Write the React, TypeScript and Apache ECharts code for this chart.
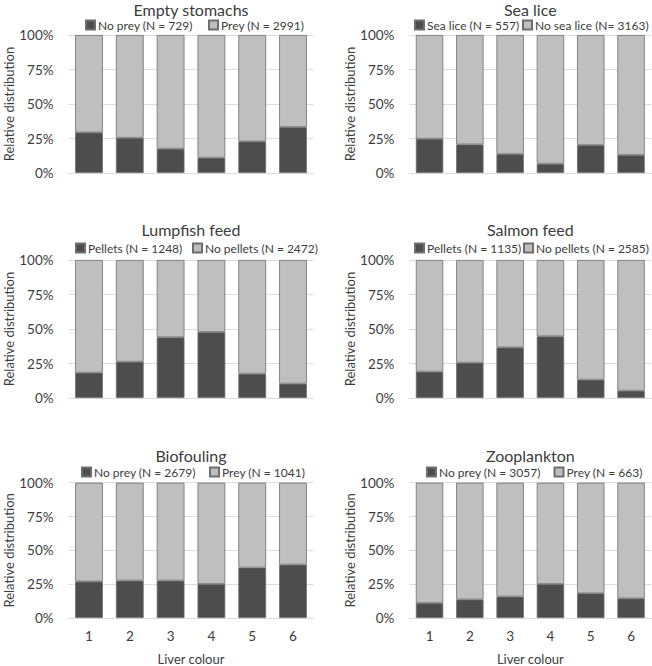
import React, { useEffect, useRef } from "react";
import * as echarts from "echarts";

const categories = ["1", "2", "3", "4", "5", "6"];
const yTicks = [0, 25, 50, 75, 100];

const titles = ["Empty stomachs", "Sea lice", "Lumpfish feed", "Salmon feed", "Biofouling", "Zooplankton"];
const darkNames = [
  "No prey (N = 729)",
  "Sea lice (N = 557)",
  "Pellets (N = 1248)",
  "Pellets (N = 1135)",
  "No prey (N = 2679)",
  "No prey (N = 3057)",
];
const lightNames = [
  "Prey (N = 2991)",
  "No sea lice (N= 3163)",
  "No pellets (N = 2472)",
  "No pellets (N = 2585)",
  "Prey (N = 1041)",
  "Prey (N = 663)",
];

const emptyStomachs = [29.4, 25.5, 17.6, 11.1, 22.9, 33.3];
const seaLice = [24.8, 20.7, 13.7, 6.7, 20.2, 13.0];
const lumpfishFeed = [18.4, 26.3, 44.0, 47.8, 17.6, 10.4];
const salmonFeed = [19.1, 25.6, 36.7, 44.7, 13.3, 5.3];
const biofouling = [27.0, 27.7, 27.7, 25.1, 37.3, 39.5];
const zooplankton = [11.1, 13.7, 15.9, 25.1, 18.3, 14.5];

const darkValues = [emptyStomachs, seaLice, lumpfishFeed, salmonFeed, biofouling, zooplankton];

// layout
const colLeft = [68.6, 409.4];
const colWidth = [244.8, 241.8];
const rowTop = [35, 260, 482.7];
const plotH = 138;
const legendDarkLeft = [85, 414, 75, 414, 81, 426];
const legendLightLeft = [208, 522, 192, 523, 209, 553.5];
const titleTop = [0, 220, 446];
const legendTop = [19, 242, 466];

const FONT = "Lato, 'Open Sans', sans-serif";
const TXT = "#3c3c3c";
const DARK = "#4d4d4d";
const LIGHT = "#bfbfbf";
const BORDER = "#6e6e6e";
const GRID = "#dcdcdc";

export default function App() {
  const ref = useRef<HTMLDivElement>(null);
  useEffect(() => {
    if (!ref.current) return;
    const chart = echarts.init(ref.current, undefined, { renderer: "svg" });
    const grid: any[] = [];
    const xAxis: any[] = [];
    const yAxis: any[] = [];
    const series: any[] = [];
    const title: any[] = [];
    const legend: any[] = [];
    for (let i = 0; i < 6; i++) {
      const c = i % 2;
      const r = Math.floor(i / 2);
      const bottomRow = r === 2;
      grid.push({ left: colLeft[c], top: rowTop[r], width: colWidth[c], height: plotH, containLabel: false });
      xAxis.push({
        type: "category",
        gridIndex: i,
        data: categories,
        axisLine: { show: true, lineStyle: { color: GRID, width: 1 } },
        axisTick: { show: false },
        axisLabel: { show: bottomRow, color: TXT, fontSize: 13.5, fontFamily: FONT, margin: 11 },
        name: bottomRow ? "Liver colour" : "",
        nameLocation: "middle",
        nameGap: 34,
        nameTextStyle: { color: TXT, fontSize: 13, fontFamily: FONT },
      });
      yAxis.push({
        type: "value",
        gridIndex: i,
        min: 0,
        max: 100,
        interval: 25,
        axisLine: { show: false },
        axisTick: { show: false },
        splitLine: { show: true, lineStyle: { color: GRID, width: 1 } },
        axisLabel: {
          color: TXT,
          fontSize: 13.5,
          fontFamily: FONT,
          margin: 15,
          formatter: (v: number) => (yTicks.includes(v) ? v + "%" : ""),
        },
        name: "Relative distribution",
        nameLocation: "middle",
        nameGap: 48,
        nameTextStyle: { color: TXT, fontSize: 13, fontFamily: FONT },
      });
      const dark = darkValues[i];
      const light = dark.map((v) => Math.round((100 - v) * 10) / 10);
      series.push({
        type: "bar",
        name: darkNames[i],
        xAxisIndex: i,
        yAxisIndex: i,
        stack: "s" + i,
        data: dark,
        barCategoryGap: "32%",
        itemStyle: { color: DARK, borderColor: BORDER, borderWidth: 0.8 },
      });
      series.push({
        type: "bar",
        name: lightNames[i],
        xAxisIndex: i,
        yAxisIndex: i,
        stack: "s" + i,
        data: light,
        barCategoryGap: "32%",
        itemStyle: { color: LIGHT, borderColor: BORDER, borderWidth: 0.8 },
      });
      title.push({
        text: titles[i],
        left: colLeft[c] + colWidth[c] / 2,
        top: titleTop[r] + 1,
        textAlign: "center",
        padding: 0,
        textStyle: { color: TXT, fontSize: 16, fontWeight: "normal", fontFamily: FONT, lineHeight: 16 },
      });
      const legendBase = {
        top: legendTop[r],
        width: 300,
        padding: 0,
        itemWidth: 9,
        itemHeight: 9,
        icon: "rect",
        selectedMode: false,
        textStyle: { color: TXT, fontSize: 12, fontFamily: FONT, padding: [0, 0, 0, -2] },
      };
      legend.push({ ...legendBase, data: [darkNames[i]], left: legendDarkLeft[i] });
      legend.push({ ...legendBase, data: [lightNames[i]], left: legendLightLeft[i] });
    }
    chart.setOption({
      animation: false,
      backgroundColor: "#ffffff",
      title,
      legend,
      grid,
      xAxis,
      yAxis,
      series,
    });
    return () => chart.dispose();
  }, []);
  return (
    <div
      ref={ref}
      style={{ position: "absolute", left: 0, top: 0, width: 652, height: 666 }}
    />
  );
}
